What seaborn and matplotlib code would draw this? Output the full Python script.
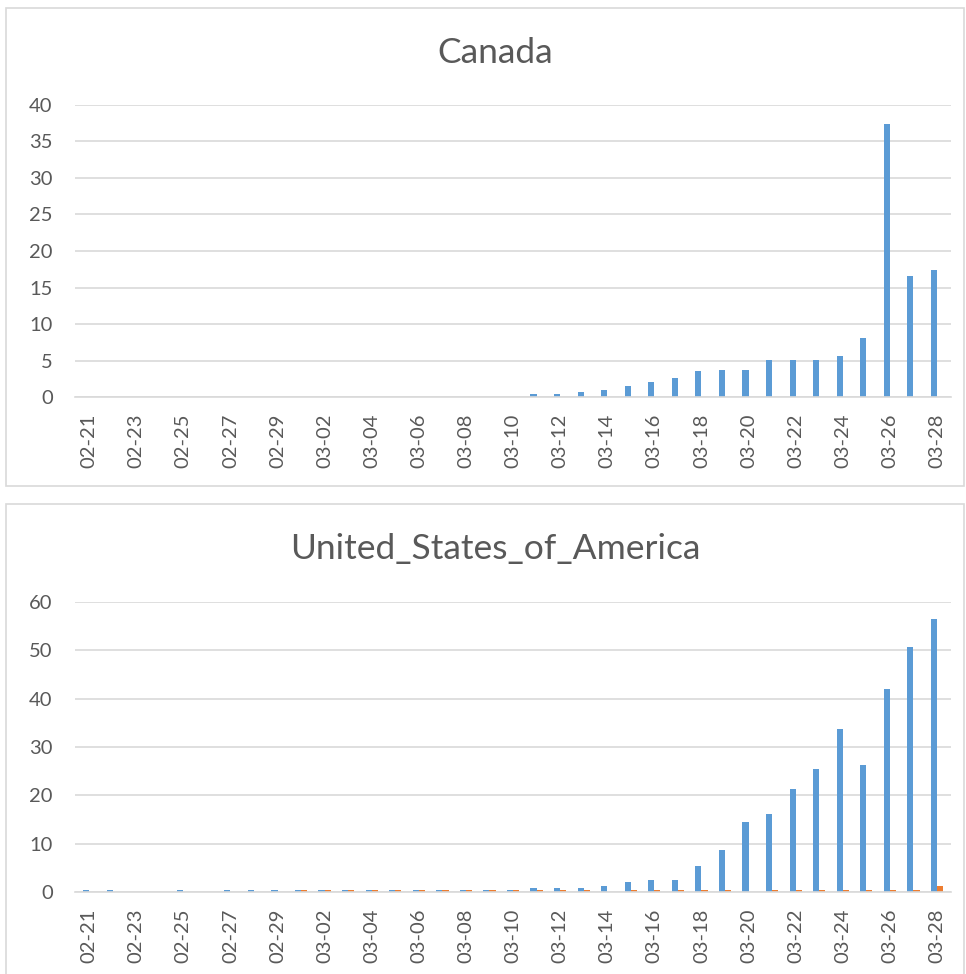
import numpy as np
import pandas as pd
import matplotlib
matplotlib.use("Agg")
import matplotlib.pyplot as plt
from matplotlib.patches import Rectangle
import seaborn as sns

# categories (2020 dates, month-day)
dates = ["02-21", "02-22", "02-23", "02-24", "02-25", "02-26", "02-27", "02-28", "02-29",
         "03-01", "03-02", "03-03", "03-04", "03-05", "03-06", "03-07", "03-08", "03-09",
         "03-10", "03-11", "03-12", "03-13", "03-14", "03-15", "03-16", "03-17", "03-18",
         "03-19", "03-20", "03-21", "03-22", "03-23", "03-24", "03-25", "03-26", "03-27",
         "03-28"]

canada_blue = [0.05, 0, 0, 0, 0.05, 0, 0.05, 0.05, 0.05,
               0.05, 0.05, 0.05, 0.05, 0.05, 0.05, 0.05, 0.05, 0.05,
               0.05, 0.37, 0.37, 0.7, 0.97, 1.5, 2.1, 2.6, 3.5,
               3.75, 3.75, 5.1, 5.1, 5.1, 5.65, 8.15, 37.4, 16.6,
               17.4]
canada_orange = [0, 0, 0, 0, 0, 0, 0, 0, 0,
                 0, 0, 0, 0, 0, 0, 0, 0, 0,
                 0.05, 0, 0, 0, 0, 0, 0, 0.05, 0.05,
                 0.05, 0.05, 0.05, 0.05, 0.05, 0.05, 0.05, 0.05, 0.05,
                 0.05]

usa_blue = [0.45, 0.45, 0, 0, 0.45, 0, 0.45, 0.45, 0.45,
            0.45, 0.45, 0.45, 0.45, 0.45, 0.45, 0.45, 0.45, 0.45,
            0.35, 0.8, 0.8, 0.8, 1.2, 2.1, 2.5, 2.5, 5.4,
            8.6, 14.4, 16.1, 21.4, 25.5, 33.8, 26.3, 42.0, 50.6,
            56.4]
usa_orange = [0, 0, 0, 0, 0, 0, 0, 0, 0,
              0.45, 0.45, 0.45, 0.45, 0.45, 0.45, 0.45, 0.45, 0.45,
              0.35, 0.35, 0.35, 0.35, 0, 0.35, 0.35, 0.35, 0.35,
              0.35, 0, 0.35, 0.35, 0.35, 0.35, 0.35, 0.35, 0.35,
              1.2]

tick_labels = dates[::2]
blue = "#5B9BD5"
orange = "#ED7D31"
grid_c = "#D9D9D9"
text_c = "#595959"

sns.set_style("white")
plt.rcParams["font.family"] = ["Lato", "DejaVu Sans"]

fig = plt.figure(figsize=(9.66, 9.74), dpi=100)

# chart area borders (Excel style)
fig.patches.append(Rectangle((6 / 966, 1 - 486 / 974), 958 / 966, 478 / 974,
                             transform=fig.transFigure, fill=False,
                             edgecolor=grid_c, linewidth=1.2))
fig.patches.append(Rectangle((6 / 966, 1 - 980 / 974), 958 / 966, 476 / 974,
                             transform=fig.transFigure, fill=False,
                             edgecolor=grid_c, linewidth=1.2))


def draw(ax, title, b, o, ymax, step, title_y):
    df = pd.DataFrame({
        "date": dates * 2,
        "value": list(b) + list(o),
        "series": ["a"] * len(dates) + ["b"] * len(dates),
    })
    sns.barplot(data=df, x="date", y="value", hue="series",
                palette=[blue, orange], width=0.52, ax=ax,
                legend=False, saturation=1, linewidth=0)
    ax.set_ylim(0, ymax)
    ax.set_xlim(-0.6, len(dates) - 0.4)
    ax.set_yticks(np.arange(0, ymax + 1, step))
    ax.set_xticks(range(0, len(dates), 2))
    ax.set_xticklabels(tick_labels, rotation=90)
    ax.tick_params(axis="both", length=0, labelsize=14.5, colors=text_c)
    ax.tick_params(axis="x", pad=12)
    ax.tick_params(axis="y", pad=16)
    ax.yaxis.grid(True, color=grid_c, linewidth=1.2)
    ax.set_axisbelow(True)
    for s in ["top", "right", "left"]:
        ax.spines[s].set_visible(False)
    ax.spines["bottom"].set_color(grid_c)
    ax.spines["bottom"].set_linewidth(1.2)
    ax.set_xlabel("")
    ax.set_ylabel("")
    fig.text(0.513, title_y, title, ha="center", va="center",
             fontsize=25.5, color=text_c)


ax1 = fig.add_axes([0.0776, 0.5924, 0.907, 0.2998])
draw(ax1, "Canada", canada_blue, canada_orange, 40, 5, 0.9456)

ax2 = fig.add_axes([0.0776, 0.0842, 0.907, 0.2977])
draw(ax2, "United_States_of_America", usa_blue, usa_orange, 60, 10, 0.4364)

fig.savefig("out.png", dpi=100)
